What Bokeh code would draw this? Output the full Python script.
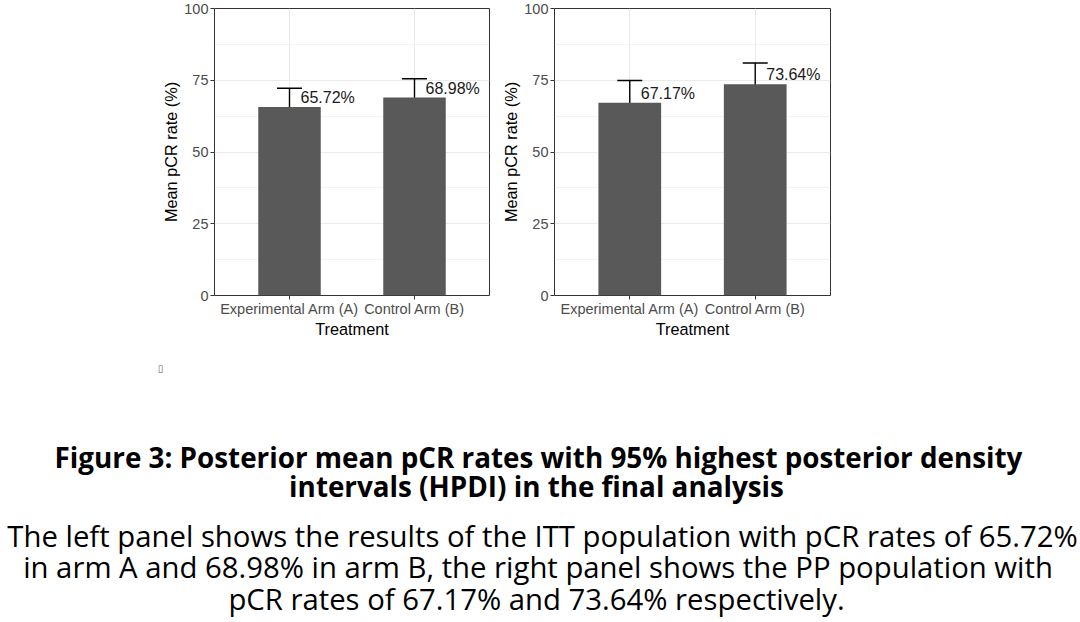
from bokeh.plotting import figure
from bokeh.models import FactorRange, Range1d, ColumnDataSource, Whisker, TeeHead, Spacer, FixedTicker
from bokeh.layouts import column, row
from bokeh.embed import file_html
from bokeh.resources import INLINE
from bokeh.core.properties import value

# ---------------- data ----------------
treatments = ["Experimental Arm (A)", "Control Arm (B)"]

itt_mean = [65.72, 68.98]
itt_lower = [58.3, 61.9]
itt_upper = [72.2, 75.5]

pp_mean = [67.17, 73.64]
pp_lower = [58.9, 65.9]
pp_upper = [74.9, 81.0]

y_ticks = [0, 25, 50, 75, 100]
y_minor = [12.5, 37.5, 62.5, 87.5]

x_title = "Treatment"
y_title = "Mean pCR rate (%)"

caption_title = [
    "Figure 3: Posterior mean pCR rates with 95% highest posterior density",
    "intervals (HPDI) in the final analysis",
]
caption_body = [
    "The left panel shows the results of the ITT population with pCR rates of 65.72%",
    "in arm A and 68.98% in arm B, the right panel shows the PP population with",
    "pCR rates of 67.17% and 73.64% respectively.",
]

PANEL_FONT = "Liberation Sans"
CAP_FONT = "Open Sans"

TOP_H = 340


def make_panel(means, lowers, uppers, width, border_right):
    labels = [f"{m:.2f}%" for m in means]
    src = ColumnDataSource(dict(cat=treatments, mean=means, lower=lowers,
                                upper=uppers, label=labels))
    p = figure(x_range=FactorRange(factors=treatments, range_padding=0.1),
               y_range=Range1d(0, 100),
               width=width, height=TOP_H,
               min_border_left=55, min_border_right=border_right,
               min_border_top=8, min_border_bottom=40,
               output_backend="svg", toolbar_location=None)
    p.background_fill_color = "white"
    p.border_fill_color = "white"
    p.outline_line_color = "#333333"
    p.outline_line_width = 1

    # grid
    p.xgrid.grid_line_color = "#EBEBEB"
    p.xgrid.grid_line_width = 1.1
    p.ygrid.ticker = FixedTicker(ticks=y_ticks, minor_ticks=y_minor)
    p.ygrid.grid_line_color = "#EBEBEB"
    p.ygrid.grid_line_width = 1.1
    p.ygrid.minor_grid_line_color = "#EBEBEB"
    p.ygrid.minor_grid_line_width = 0.6

    # axes
    p.yaxis.ticker = FixedTicker(ticks=y_ticks)
    for ax in (p.xaxis[0], p.yaxis[0]):
        ax.axis_line_color = None
        ax.major_tick_line_color = "#333333"
        ax.major_tick_out = 4
        ax.major_tick_in = 0
        ax.minor_tick_line_color = None
        ax.major_label_text_color = "#4D4D4D"
        ax.major_label_text_font = PANEL_FONT
        ax.major_label_text_font_size = "14.5px"
        ax.axis_label_text_font = PANEL_FONT
        ax.axis_label_text_font_size = "16.3px"
        ax.axis_label_text_font_style = "normal"
        ax.axis_label_text_color = "black"
    p.xaxis.major_label_standoff = 1
    p.xaxis.axis_label = x_title
    p.xaxis.axis_label_standoff = 0
    p.yaxis.major_label_standoff = 2
    p.yaxis.axis_label = y_title
    p.yaxis.axis_label_standoff = 1

    # bars
    p.vbar(x="cat", top="mean", bottom=0, width=0.5, source=src,
           fill_color="#595959", line_color=None)

    # error bars
    w = Whisker(source=src, base="cat", upper="upper", lower="lower",
                line_color="black", line_width=1.4,
                upper_head=TeeHead(size=25, line_color="black", line_width=1.4),
                lower_head=TeeHead(size=25, line_color="black", line_width=1.4))
    p.add_layout(w)

    # value labels
    p.text(x="cat", y="mean", text="label", source=src,
           x_offset=11, y_offset=-9.5,
           text_align="left", text_baseline="middle",
           text_font=value(PANEL_FONT), text_font_size="16px",
           text_color="#1A1A1A")
    return p


left = make_panel(itt_mean, itt_lower, itt_upper, 340, 10)
right = make_panel(pp_mean, pp_lower, pp_upper, 340, 9)

top = row(Spacer(width=159, height=TOP_H), left, right)

cap = figure(width=1080, height=622 - TOP_H,
             x_range=Range1d(0, 1080), y_range=Range1d(622, TOP_H),
             x_axis_type=None, y_axis_type=None, min_border=0,
             output_backend="svg", toolbar_location=None)
cap.outline_line_color = None
cap.background_fill_color = "white"
cap.border_fill_color = "white"

# small missing-glyph box
cap.text(x=[160], y=[368], text=["\u25AF"], text_align="center",
         text_baseline="middle", text_font=value("DejaVu Sans"),
         text_font_size="10px", text_color="#666666")

cap.text(x=[538, 536], y=[456.5, 485.0], text=caption_title,
         text_align="center", text_baseline="alphabetic",
         text_font=value(CAP_FONT), text_font_style="bold",
         text_font_size="27.8px", text_color="black")

cap.text(x=[542, 537.5, 536], y=[535.0, 566.5, 598.0], text=caption_body,
         text_align="center", text_baseline="alphabetic",
         text_font=value(CAP_FONT), text_font_size="29.3px", text_color="black")

layout = column(top, cap)

open("out.html", "w").write(file_html(layout, INLINE))
